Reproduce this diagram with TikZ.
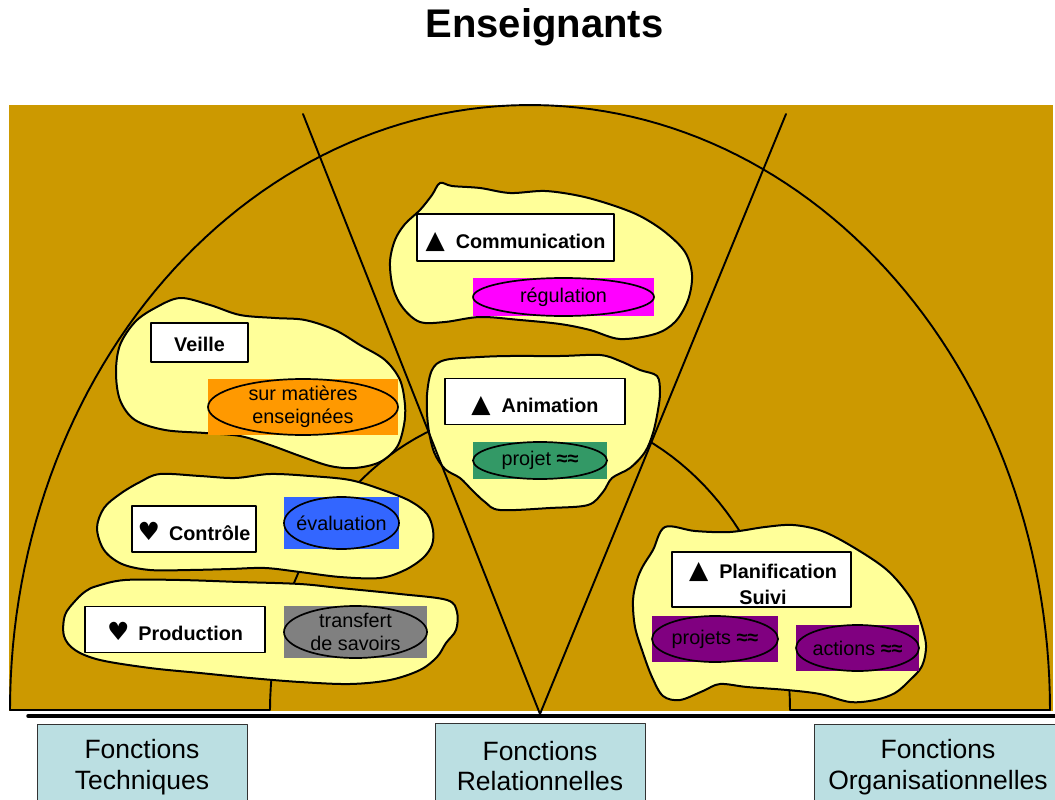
\documentclass[tikz,border=0pt]{standalone}
\usepackage{fontspec}
\setmainfont{Liberation Sans}
\newfontfamily\symbfont{DejaVu Sans}
\usetikzlibrary{shapes.geometric}
\definecolor{ocre}{RGB}{204,153,0}
\definecolor{paille}{RGB}{255,255,153}
\definecolor{ciel}{RGB}{187,223,226}
\definecolor{tagrose}{RGB}{255,0,255}
\definecolor{tagorange}{RGB}{255,153,0}
\definecolor{tagbleu}{RGB}{51,102,255}
\definecolor{taggris}{RGB}{128,128,128}
\definecolor{tagvert}{RGB}{51,153,102}
\definecolor{tagviolet}{RGB}{128,0,128}
\newcommand{\tri}{{\symbfont\fontsize{25}{25}\selectfont ▲}\hspace{11pt}}
\newcommand{\coeur}{{\symbfont\fontsize{25}{25}\selectfont ♥}\hspace{9pt}}

\begin{document}
\begin{tikzpicture}[x=1pt, y=-1pt, line join=round, line cap=round,
	trait/.style={line width=1.9pt},
	nuage/.style={draw=black, fill=paille, line width=2pt},
	etiq/.style={draw=black, fill=white, line width=1.7pt, inner sep=0pt, text height=22pt, text depth=0pt, font=\fontsize{19.8}{26}\selectfont\bfseries},
	tagforme/.style={ellipse, draw=black, line width=1.7pt, inner sep=0pt},
	tagtexte/.style={align=center, inner sep=0pt, font=\fontsize{19.8}{22.5}\selectfont},
	fonction/.style={draw=black!80, fill=ciel, line width=1pt, align=center, inner sep=0pt, font=\fontsize{26.5}{30.5}\selectfont}]
	\useasboundingbox (0,0) rectangle (1055,800);
	\clip (0,0) rectangle (1055,800);
	\fill[white] (0,0) rectangle (1055,800);
	\node[font=\fontsize{40}{44}\selectfont\bfseries, anchor=base] (titre) at (544.5,38) {Enseignants};
	\fill[ocre] (9,105) rectangle (1053,711);
	\def\ox{530+520*cos(\x)}
	\def\oy{710+605*sin(\x)}
	\def\ix{530+260*cos(\x)}
	\def\iy{710+302.5*sin(\x)}
	\draw[trait] (10,710) -- plot[domain=180:360, samples=120] ({\ox},{\oy}) -- (790,710) -- plot[domain=360:180, samples=80] ({\ix},{\iy}) -- cycle;
	
	\draw[nuage] plot[smooth cycle, tension=.55] coordinates {(440,183) (452,186) (480,188) (510,193) (545,191) (580,196) (612,205) (640,216) (665,232) (685,252) (692,275) (688,300) (675,322) (655,334) (620,339) (590,330) (560,324) (520,320) (480,317) (445,322) (420,322) (403,308) (393,288) (390,262) (395,240) (405,224) (420,210) (432,195)};
	\draw[nuage] plot[smooth cycle, tension=.55] coordinates {(180,298) (210,305) (240,315) (275,318) (305,320) (335,330) (360,345) (385,360) (400,380) (405,405) (404,425) (397,447) (380,462) (355,468) (330,466) (300,456) (270,445) (240,436) (205,433) (165,430) (135,420) (120,400) (116,372) (120,345) (135,322) (155,308)};
	\draw[nuage] plot[smooth cycle, tension=.55] coordinates {(160,474) (200,476) (235,478) (270,474) (310,476) (350,480) (383,490) (410,501) (427,514) (433,530) (432,545) (423,558) (405,570) (380,578) (340,577) (300,572) (265,568) (230,569) (190,570) (150,570) (122,564) (104,550) (97,528) (104,508) (120,494) (140,482)};
	\draw[nuage] plot[smooth cycle, tension=.55] coordinates {(97,586) (125,580) (180,580) (240,582) (300,584) (340,588) (400,594) (447,600) (457,612) (456,630) (446,643) (437,657) (420,670) (390,680) (350,684) (300,682) (250,678) (200,673) (150,668) (100,660) (75,650) (64,636) (65,615) (76,600) (86,591)};
	\draw[nuage] plot[smooth cycle, tension=.55] coordinates {(432,370) (445,360) (480,357) (510,356) (560,356) (600,355) (620,361) (640,370) (657,376) (660,392) (658,410) (653,433) (645,452) (630,468) (612,478) (603,492) (588,505) (550,508) (500,510) (485,502) (472,490) (460,478) (445,469) (434,452) (428,425) (427,395)};
	\draw[nuage] plot[smooth cycle, tension=.55] coordinates {(665,527) (695,531) (730,532) (765,527) (793,525) (822,531) (853,547) (887,570) (910,597) (920,620) (926,645) (922,666) (910,680) (895,693) (875,700) (850,702) (820,694) (787,690) (747,687) (720,684) (703,691) (680,700) (663,696) (652,677) (643,653) (635,627) (633,600) (637,580) (643,566) (653,550)};
	
	\coordinate (pied) at (540,714);
	\coordinate (rgauche) at (303,114);
	\coordinate (rdroite) at (786,114);
	\draw[trait] (rgauche) -- (pied) -- (rdroite);
	\draw[line width=3.5pt] (28,716) -- (1055,716);
	
	\foreach \nom/\cx/\cy/\w/\h/\coul/\txt in {
		reg/563.5/297/181/38/tagrose/{régulation},
		mat/303/407/190/56/tagorange/{sur matières\\enseignées},
		eva/341.5/523/115/52/tagbleu/{évaluation},
		tra/355.5/632/143/52/taggris/{transfert\\de savoirs},
		pjt/540/460.5/134/37/tagvert/{projet \textbf{≈≈}},
		pjs/715/639/126/46/tagviolet/{projets \textbf{≈≈}},
		act/857.5/648/123/46/tagviolet/{actions \textbf{≈≈}}}{
		\fill[\coul] (\cx-\w/2,\cy-\h/2) rectangle (\cx+\w/2,\cy+\h/2);
		\node[tagforme, fill=\coul, minimum width=\w*1pt, minimum height=\h*1pt] (\nom) at (\cx,\cy) {};
		\node[tagtexte] (\nom-t) at (\nom) {\txt};
	}
	
	\node[etiq, minimum width=97pt, minimum height=39pt, text height=17pt] (veille) at (199.5,342.5) {Veille};
	\node[etiq, minimum width=197pt, minimum height=47pt] (comm) at (515.5,237.5) {\tri Communication};
	\node[etiq, minimum width=124pt, minimum height=46pt] (controle) at (194,529) {\coeur Contrôle};
	\node[etiq, minimum width=180pt, minimum height=46pt] (prod) at (175,629.5) {\coeur Production};
	\node[etiq, minimum width=180pt, minimum height=46pt] (anim) at (535,401.5) {\tri Animation};
	\node[etiq, minimum width=179pt, minimum height=55pt, text height=0pt] (plan) at (761.5,579.5) {};
	\node[align=center, inner sep=0pt, font=\fontsize{19.8}{26}\selectfont\bfseries] (plan-t) at (763,584) {\tri Planification\\Suivi};
	
	\node[fonction, minimum width=210pt, minimum height=86pt] (ftech) at (142,767) {Fonctions\\Techniques};
	\node[fonction, minimum width=210pt, minimum height=86pt] (frel) at (540,766) {Fonctions\\Relationnelles};
	\node[fonction, minimum width=248pt, minimum height=86pt] (forg) at (938,767) {Fonctions\\Organisationnelles};
\end{tikzpicture}
\end{document}
